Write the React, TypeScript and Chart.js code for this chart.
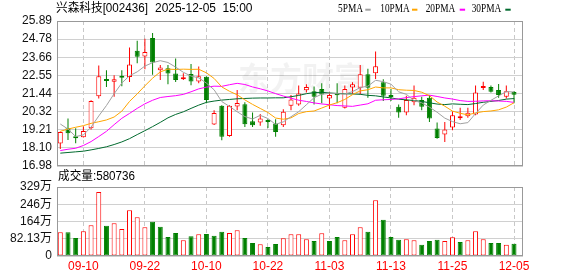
import React, { useEffect, useRef } from 'react';
import { Chart, registerables } from 'chart.js';

Chart.register(...registerables);

// ---------- data ----------
const dates = [
  '09-05', '09-08', '09-09', '09-10', '09-11', '09-12', '09-15', '09-16', '09-17', '09-18',
  '09-19', '09-22', '09-23', '09-24', '09-25', '09-26', '09-29', '09-30', '10-09', '10-10',
  '10-13', '10-14', '10-15', '10-16', '10-17', '10-20', '10-21', '10-22', '10-23', '10-24',
  '10-27', '10-28', '10-29', '10-30', '10-31', '11-03', '11-04', '11-05', '11-06', '11-07',
  '11-10', '11-11', '11-12', '11-13', '11-14', '11-17', '11-18', '11-19', '11-20', '11-21',
  '11-24', '11-25', '11-26', '11-27', '11-28', '12-01', '12-02', '12-03', '12-04', '12-05',
];
const tickDates = ['09-10', '09-22', '10-10', '10-22', '11-03', '11-13', '11-25', '12-05'];

const opens = [
  18.37, 19.30, 18.77, 18.75, 19.30, 21.27, 22.31, 22.16, 22.53, 22.45,
  24.06, 23.71, 24.84, 22.86, 22.99, 22.66, 22.31, 22.64, 22.18, 22.47,
  19.53, 20.68, 18.83, 20.64, 20.78, 19.73, 19.65, 19.73, 19.59, 19.49,
  20.68, 20.76, 21.63, 21.57, 21.71, 21.13, 21.44, 20.56, 21.81, 21.79,
  22.62, 22.68, 22.12, 21.26, 20.62, 20.27, 20.89, 21.03, 21.17, 19.28,
  18.91, 19.34, 19.92, 20.04, 20.15, 21.77, 21.83, 21.65, 21.24, 21.53,
];
const highs = [
  19.10, 19.90, 19.30, 19.40, 21.02, 23.15, 22.86, 22.55, 22.86, 24.26,
  24.67, 24.80, 25.15, 23.19, 23.19, 23.58, 22.68, 23.25, 23.09, 22.50,
  20.41, 20.72, 20.72, 21.65, 20.89, 20.27, 20.17, 19.86, 19.86, 20.46,
  21.34, 21.92, 22.00, 21.86, 22.06, 21.50, 22.06, 21.92, 22.12, 23.19,
  22.95, 24.02, 22.31, 21.71, 20.76, 21.30, 21.92, 21.24, 21.34, 19.65,
  19.69, 20.35, 20.56, 20.56, 21.92, 22.16, 21.92, 22.02, 21.92, 21.57,
];
const lows = [
  18.02, 18.58, 18.38, 18.73, 19.23, 21.13, 21.84, 21.23, 21.88, 22.14,
  23.30, 22.93, 22.58, 22.27, 22.00, 22.14, 22.27, 21.94, 22.06, 20.83,
  19.50, 18.56, 18.77, 20.41, 19.38, 19.38, 19.45, 19.32, 18.77, 19.38,
  20.41, 20.68, 21.50, 20.76, 20.83, 20.48, 20.83, 20.52, 21.44, 21.38,
  21.17, 22.33, 20.97, 20.97, 19.94, 20.10, 20.72, 20.41, 19.69, 18.66,
  18.46, 19.18, 19.80, 19.94, 20.10, 21.65, 21.50, 21.17, 21.13, 20.83,
];
const closes = [
  19.07, 18.99, 18.68, 19.13, 20.98, 22.49, 22.20, 22.31, 22.41, 23.22,
  23.69, 23.98, 23.34, 23.03, 22.66, 22.27, 22.39, 22.18, 22.49, 21.03,
  20.23, 18.77, 20.68, 20.85, 19.55, 19.49, 19.90, 19.69, 19.07, 20.31,
  21.07, 21.44, 21.83, 21.24, 21.38, 21.34, 21.32, 21.71, 22.00, 22.62,
  21.79, 23.11, 21.30, 21.22, 20.27, 21.03, 21.17, 20.62, 19.90, 18.70,
  19.22, 20.10, 19.96, 20.25, 21.50, 21.81, 21.55, 21.34, 21.57, 21.36,
];
// volume in 万 shares
const volumes = [
  113, 113, 86, 118, 147, 305, 144, 156, 128, 218,
  185, 137, 163, 139, 91, 110, 75, 94, 104, 105,
  96, 115, 110, 123, 86, 62, 56, 43, 57, 85,
  104, 104, 80, 72, 108, 72, 91, 75, 104, 137,
  115, 266, 172, 91, 77, 80, 75, 53, 72, 77,
  72, 89, 67, 75, 118, 80, 62, 62, 53, 58.0736,
];

// moving-average values before a full window is available
const ma5Lead = [19.56, 19.25, 18.79, 18.89];
const ma10Lead = [19.11, 19.25, 19.36, 19.46, 19.60, 19.70, 19.81, 19.99, 20.35];
const ma20Lead = [
  17.93, 18.01, 18.07, 18.24, 18.48, 18.79, 19.11, 19.52, 19.91, 20.21,
  20.52, 20.80, 21.02, 21.19, 21.25, 21.30, 21.38, 21.54, 21.72,
];
const ma30Lead = [
  17.77, 17.81, 17.85, 17.89, 17.97, 18.06, 18.16, 18.30, 18.46, 18.66,
  18.91, 19.15, 19.40, 19.66, 19.94, 20.15, 20.31, 20.52, 20.72, 20.89,
  20.97, 21.03, 21.07, 21.11, 21.13, 21.15, 21.16, 21.16, 21.17,
];

const priceTicks = [16.98, 18.10, 19.21, 20.32, 21.44, 22.55, 23.66, 24.78, 25.89];
const volTicks = [0, 82.13, 164.26, 246.39, 328.52];
const volTickLabels = ['0', '82.13万', '164万', '246万', '329万'];

const titleParts = ['兴森科技[002436]', '2025-12-05', '15:00'];
const volumeCaption = '成交量:580736';
const maNames = ['5PMA', '10PMA', '20PMA', '30PMA'];

// ---------- styles ----------
const RED = '#ff0000';
const GREEN = '#008000';
const MA_COLORS = ['#a0a0a0', '#ffa500', '#ff00ff', '#006a2e'];
const FRAME = '#999999';
const GRID = '#d0d0d0';
const SANS = '"Liberation Sans", Arial, "Noto Sans CJK SC", sans-serif';
const SERIF = '"Liberation Serif", "DejaVu Serif", "Noto Sans CJK SC", serif';

const X_MIN = -0.43;
const X_MAX = 60.17;

function movingAverage(n: number, lead: number[]) {
  return closes.map((_, i) => {
    if (i < n - 1) return lead[i];
    let s = 0;
    for (let k = i - n + 1; k <= i; k++) s += closes[k];
    return s / n;
  });
}

export default function App() {
  const priceRef = useRef<HTMLCanvasElement>(null);
  const volRef = useRef<HTMLCanvasElement>(null);

  useEffect(() => {
    const tickIdx = tickDates.map((d) => dates.indexOf(d));
    const up = closes.map((c, i) => c >= opens[i]);
    const volUp = closes.map((c, i) => (i === 0 ? true : c >= closes[i - 1]));
    const mas = [
      movingAverage(5, ma5Lead),
      movingAverage(10, ma10Lead),
      movingAverage(20, ma20Lead),
      movingAverage(30, ma30Lead),
    ];

    const framePlugin = (id: string) => ({
      id,
      afterDatasetsDraw(chart: any) {
        const { ctx, chartArea: a } = chart;
        ctx.save();
        ctx.strokeStyle = FRAME;
        ctx.lineWidth = 1;
        ctx.strokeRect(
          Math.round(a.left) + 0.5,
          Math.round(a.top) + 0.5,
          Math.round(a.right) - Math.round(a.left) - 1,
          Math.round(a.bottom) - Math.round(a.top) - 1,
        );
        ctx.restore();
      },
    });

    const priceDecor = {
      id: 'priceDecor',
      beforeDatasetsDraw(chart: any) {
        const { ctx } = chart;
        ctx.save();
        ctx.fillStyle = 'rgba(0,0,0,0.05)';
        ctx.font = `bold 32px "Noto Sans CJK SC", sans-serif`;
        ctx.textBaseline = 'middle';
        ctx.textAlign = 'left';
        ctx.fillText('东方财富', 238, 78, 138);
        ctx.restore();
      },
      afterDraw(chart: any) {
        const { ctx } = chart;
        ctx.save();
        ctx.fillStyle = '#000';
        ctx.textBaseline = 'middle';
        ctx.textAlign = 'left';
        ctx.font = `12px ${SANS}`;
        ctx.fillText(titleParts[0], 56, 8.5, 92);
        ctx.fillText(titleParts[1], 155, 8.5, 61);
        ctx.fillText(titleParts[2], 222.5, 8.5, 31);
        // legend
        const legendX = [338, 380.3, 425.7, 471.7];
        const legendW = [25, 29.4, 29.6, 29.6];
        const dashX = [365.3, 412, 459.7, 505.3];
        ctx.font = `12px ${SERIF}`;
        maNames.forEach((name, k) => {
          ctx.fillStyle = '#000';
          ctx.fillText(name, legendX[k], 9, legendW[k]);
          ctx.fillStyle = MA_COLORS[k];
          ctx.fillRect(dashX[k], 8.7, 5.4, 2);
        });
        ctx.restore();
      },
    };

    const volDecor = {
      id: 'volDecor',
      afterDraw(chart: any) {
        const { ctx } = chart;
        ctx.save();
        ctx.fillStyle = '#000';
        ctx.textBaseline = 'middle';
        ctx.textAlign = 'left';
        ctx.font = `12px ${SANS}`;
        ctx.fillText(volumeCaption, 58, 177, 77);
        ctx.restore();
      },
    };

    const xScale = (showLabels: boolean, height: number) => ({
      type: 'linear',
      min: X_MIN,
      max: X_MAX,
      offset: false,
      afterBuildTicks: (s: any) => {
        s.ticks = tickIdx.map((v) => ({ value: v }));
      },
      afterFit: (s: any) => {
        s.height = height;
      },
      grid: { color: '#c8c8c8', lineWidth: 1, drawTicks: false, offset: false },
      border: { display: false, dash: [4, 3] },
      ticks: {
        display: showLabels,
        autoSkip: false,
        maxRotation: 0,
        padding: 3,
        color: RED,
        font: { family: SANS, size: 12 },
        callback: (v: any) => dates[v as number],
      },
    });

    const priceChart = new Chart(priceRef.current as HTMLCanvasElement, {
      type: 'line',
      data: {
        datasets: [
          ...mas.map((arr, k) => ({
            type: 'line' as const,
            label: maNames[k],
            data: arr.map((y, i) => ({ x: i, y })),
            borderColor: MA_COLORS[k],
            borderWidth: 1,
            pointRadius: 0,
            tension: 0,
            fill: false,
            order: 1,
          })),
          {
            type: 'bar' as const,
            label: 'body',
            data: dates.map((_, i) => ({ x: i, y: [opens[i], closes[i]] })),
            backgroundColor: up.map((u) => (u ? '#ffffff' : GREEN)),
            borderColor: up.map((u) => (u ? RED : GREEN)),
            borderWidth: 1,
            borderSkipped: false,
            grouped: false,
            maxBarThickness: 5,
            minBarLength: 2,
            order: 2,
          },
          {
            type: 'bar' as const,
            label: 'wick',
            data: dates.map((_, i) => ({ x: i, y: [lows[i], highs[i]] })),
            backgroundColor: up.map((u) => (u ? RED : GREEN)),
            borderWidth: 0,
            grouped: false,
            maxBarThickness: 1,
            order: 3,
          },
        ] as any,
      },
      options: {
        animation: false,
        responsive: false,
        events: [],
        layout: { padding: { left: 0, right: 55, top: 21, bottom: 110 } },
        plugins: { legend: { display: false }, tooltip: { enabled: false } },
        scales: {
          x: xScale(false, 0) as any,
          y: {
            type: 'linear',
            position: 'left',
            min: priceTicks[0],
            max: priceTicks[priceTicks.length - 1],
            afterBuildTicks: (s: any) => {
              s.ticks = priceTicks.map((v) => ({ value: v }));
            },
            afterFit: (s: any) => {
              s.width = 57;
            },
            grid: { color: GRID, lineWidth: 1, drawTicks: false },
            border: { display: false },
            ticks: {
              autoSkip: false,
              padding: 5,
              color: '#111',
              font: { family: SANS, size: 12 },
              callback: (v: any) => Number(v).toFixed(2),
            },
          } as any,
        },
      },
      plugins: [priceDecor, framePlugin('priceFrame')],
    });

    const volChart = new Chart(volRef.current as HTMLCanvasElement, {
      type: 'line',
      data: {
        datasets: [
          {
            type: 'bar' as const,
            label: 'volume',
            data: volumes.map((v, i) => ({ x: i, y: v })),
            backgroundColor: volUp.map((u) => (u ? '#ffffff' : GREEN)),
            borderColor: volUp.map((u) => (u ? RED : GREEN)),
            borderWidth: 1,
            borderSkipped: false,
            grouped: false,
            maxBarThickness: 5,
          },
        ] as any,
      },
      options: {
        animation: false,
        responsive: false,
        events: [],
        layout: { padding: { left: 0, right: 55, top: 187, bottom: 0 } },
        plugins: { legend: { display: false }, tooltip: { enabled: false } },
        scales: {
          x: xScale(true, 20) as any,
          y: {
            type: 'linear',
            position: 'left',
            min: volTicks[0],
            max: volTicks[volTicks.length - 1],
            afterBuildTicks: (s: any) => {
              s.ticks = volTicks.map((v) => ({ value: v }));
            },
            afterFit: (s: any) => {
              s.width = 57;
            },
            grid: { color: GRID, lineWidth: 1, drawTicks: false },
            border: { display: false },
            ticks: {
              autoSkip: false,
              padding: 5,
              color: '#111',
              font: { family: SANS, size: 12 },
              callback: (_v: any, i: number) => volTickLabels[i],
            },
          } as any,
        },
      },
      plugins: [volDecor, framePlugin('volFrame')],
    });

    return () => {
      priceChart.destroy();
      volChart.destroy();
    };
  }, []);

  return (
    <div style={{ position: 'fixed', left: 0, top: 0, width: 578, height: 276, background: '#ffffff' }}>
      <canvas ref={priceRef} width={578} height={276} style={{ position: 'absolute', left: 0, top: 0 }} />
      <canvas ref={volRef} width={578} height={276} style={{ position: 'absolute', left: 0, top: 0 }} />
    </div>
  );
}
